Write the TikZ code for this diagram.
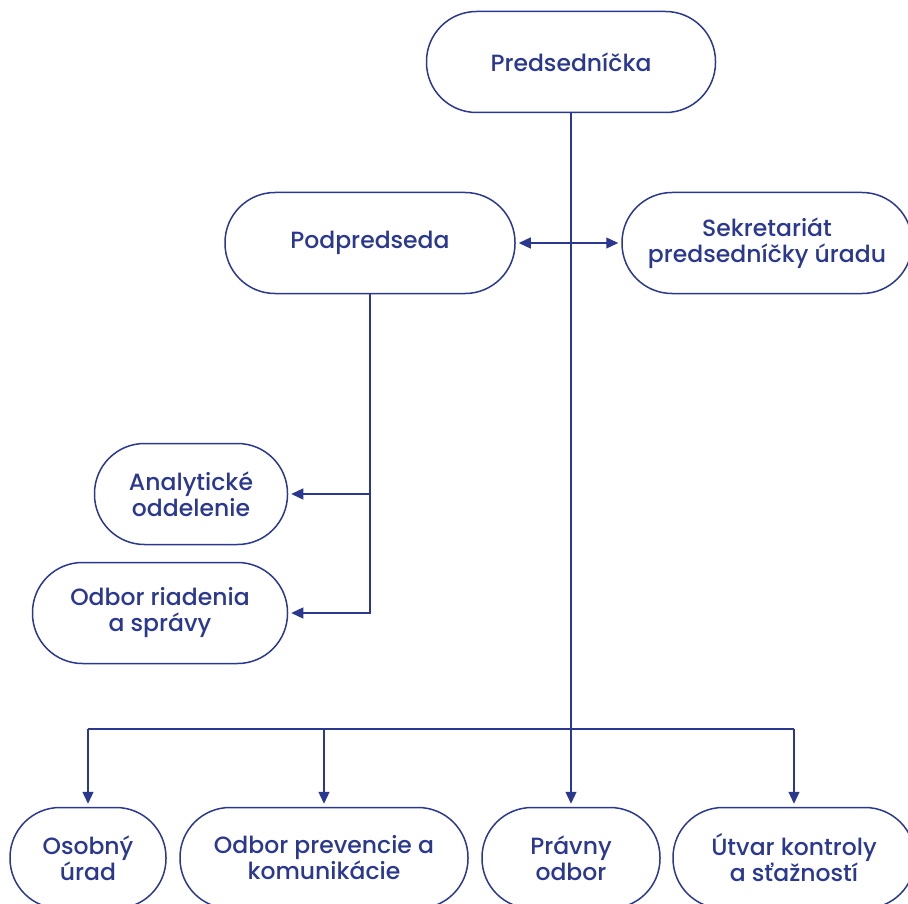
\documentclass[tikz,border=0pt]{standalone}
\usepackage{fontspec}
\setmainfont{Poppins}[UprightFont=* Medium]
\usetikzlibrary{arrows.meta}
\definecolor{navy}{RGB}{43,56,143}

\tikzset{
  unit/.style={draw=navy, line width=1.5pt, rounded corners=50pt, text=navy,
    minimum height=101pt, align=center, inner sep=0pt,
    font=\fontsize{23.5}{26}\selectfont},
  link/.style={draw=navy, line width=1.3pt},
  arr/.style={link, -{Triangle[length=12pt,width=11pt]}, shorten >=3pt}
}

\begin{document}
\begin{tikzpicture}[x=1pt, y=-1pt]
  \useasboundingbox (0,0) rectangle (908,904);
  % top
  \node[unit, minimum width=289pt] (pred) at (571,62) {Predsedníčka};
  \node[unit, minimum width=290pt] (podp) at (370,243) {Podpredseda};
  \node[unit, minimum width=290pt] (sekr) at (767,243) {Sekretariát\\predsedníčky úradu};
  % left column
  \node[unit, minimum width=193pt] (anal) at (191,494) {Analytické\\oddelenie};
  \node[unit, minimum width=255pt] (riad) at (160,613) {Odbor riadenia\\a správy};
  % bottom row
  \node[unit, minimum width=156pt] (osob) at (88,858) {Osobný\\úrad};
  \node[unit, minimum width=288pt] (prev) at (324,858) {Odbor prevencie a\\komunikácie};
  \node[unit, minimum width=178pt] (prav) at (571,858) {Právny\\odbor};
  \node[unit, minimum width=242pt] (utv) at (794,858) {Útvar kontroly\\a sťažností};
  \coordinate (bus) at (571,729);

  \draw[arr] (pred.south) -- (prav.north);
  \draw[arr, {Triangle[length=12pt,width=11pt]}-{Triangle[length=12pt,width=11pt]}, shorten <=3pt]
    (podp.east) -- (sekr.west);
  \draw[arr] (podp.south) |- (riad.east);
  \draw[arr] (podp.south |- anal.east) -- (anal.east);
  \draw[link] (osob.north |- bus) -- (utv.north |- bus);
  \foreach \n in {osob, prev, utv}
    \draw[arr] (\n.north |- bus) -- (\n.north);
\end{tikzpicture}
\end{document}
